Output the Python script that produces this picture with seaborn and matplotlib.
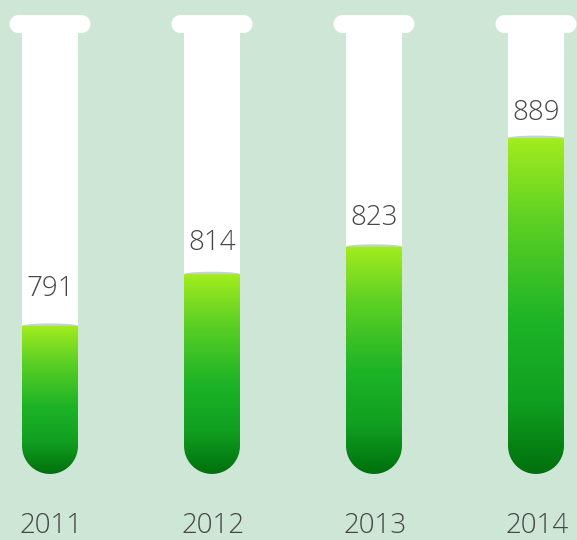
import numpy as np
import matplotlib
matplotlib.use("Agg")
import matplotlib.pyplot as plt
import seaborn as sns
from matplotlib.path import Path
from matplotlib.patches import PathPatch, Ellipse
from matplotlib.colors import LinearSegmentedColormap

# ---- data ----
years = ["2011", "2012", "2013", "2014"]
values = [791, 814, 823, 889]
levels = [33.5, 45.2, 51.4, 76.0]   # fill level, % of tube height
tube_full = [100, 100, 100, 100]

# label offsets above the liquid surface (pixels) - styling only
label_gap_px = [37, 31, 29, 25]

sns.set_theme(style="white")
plt.rcParams["font.family"] = ["Open Sans", "DejaVu Sans"]

BG = "#cde6d5"
TXT = "#464646"

fig = plt.figure(figsize=(5.77, 5.40), dpi=100, facecolor=BG)
ax = fig.add_axes([0, 0, 1, 1])
ax.set_facecolor(BG)

BAR_W = 56 / 162
sns.barplot(x=years, y=tube_full, color="white", width=BAR_W, ax=ax,
            saturation=1, linewidth=0)

PX_X = 162.0   # px per x unit
PX_Y = 4.42    # px per y unit
xlim = (-50 / PX_X, 3 + (577 - 536) / PX_X)
ylim = (-66 / PX_Y, 100 + 32 / PX_Y)


def tube_path(x0, w, y0, y1, ry):
    cx = x0 + w / 2
    cy = y0 + ry
    t = np.linspace(np.pi, 2 * np.pi, 40)
    arc = np.column_stack([cx + (w / 2) * np.cos(t), cy + ry * np.sin(t)])
    verts = [(x0, y1), (x0, cy)] + [tuple(p) for p in arc] + [(x0 + w, y1), (x0, y1)]
    codes = [Path.MOVETO] + [Path.LINETO] * (len(verts) - 2) + [Path.CLOSEPOLY]
    return Path(verts, codes)


def stadium_path(xc, hw, yc, hh, rx):
    t1 = np.linspace(np.pi / 2, 3 * np.pi / 2, 30)
    t2 = np.linspace(-np.pi / 2, np.pi / 2, 30)
    left = np.column_stack([xc - hw + rx + rx * np.cos(t1), yc + hh * np.sin(t1)])
    right = np.column_stack([xc + hw - rx + rx * np.cos(t2), yc + hh * np.sin(t2)])
    verts = np.vstack([left, right, left[:1]])
    codes = [Path.MOVETO] + [Path.LINETO] * (len(verts) - 2) + [Path.CLOSEPOLY]
    return Path(verts, codes)


cmap = LinearSegmentedColormap.from_list(
    "tube", [(0.0, "#00700d"), (0.22, "#11a021"), (0.45, "#1db327"),
             (0.75, "#5cd024"), (1.0, "#a3ec1e")])
grad = np.linspace(0, 1, 256).reshape(-1, 1)

RY = 28 / PX_Y
bars = list(ax.patches)
for i, bar in enumerate(bars):
    x0 = bar.get_x()
    w = bar.get_width()
    top = bar.get_height()
    bar.set_visible(False)
    # white tube
    ax.add_patch(PathPatch(tube_path(x0, w, 0, top, RY), facecolor="white",
                           edgecolor="none", zorder=2))
    # cap
    xc = x0 + w / 2
    ax.add_patch(PathPatch(stadium_path(xc, 40.5 / PX_X, top + 1.8, 9 / PX_Y, 9 / PX_X),
                           facecolor="white", edgecolor="none", zorder=3))
    lv = levels[i]
    # meniscus
    ax.add_patch(Ellipse((xc, lv), w, 5 / PX_Y, facecolor="#c3d4cb",
                         edgecolor="none", zorder=3))
    fill = PathPatch(tube_path(x0, w, 0, lv, RY), facecolor="none",
                     edgecolor="none", zorder=4)
    ax.add_patch(fill)
    im = ax.imshow(grad, extent=[x0, x0 + w, 0, lv], origin="lower",
                   aspect="auto", cmap=cmap, zorder=4, interpolation="bilinear")
    im.set_clip_path(fill)
    ax.text(xc, lv + label_gap_px[i] / PX_Y, f"{values[i]}", ha="center", va="center",
            fontsize=20, color=TXT, fontweight=300, zorder=5)
    ax.text(xc + 1.5 / PX_X, -52 / PX_Y, years[i], ha="center", va="center",
            fontsize=20, color=TXT, fontweight=300, zorder=5)

ax.set_xlim(*xlim)
ax.set_ylim(*ylim)
ax.set_axis_off()
fig.savefig("out.png", dpi=100, facecolor=BG)
